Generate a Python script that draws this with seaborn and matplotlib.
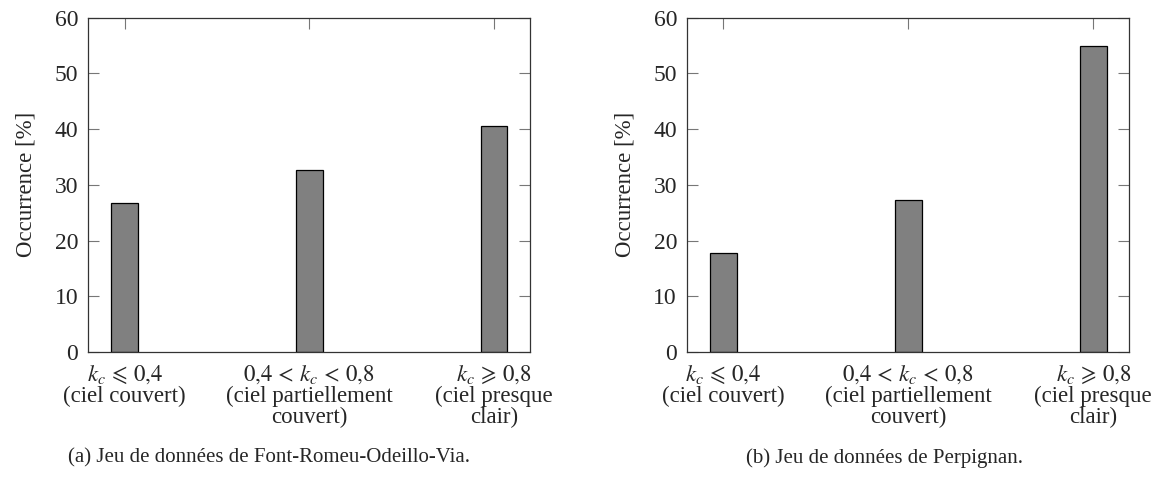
import matplotlib
matplotlib.use("Agg")
import matplotlib.pyplot as plt
import seaborn as sns
import pandas as pd

# categories (x tick labels) and occurrence values in %
categories = [
    "$k_c \\,\\leqslant\\, 0{,}4$\n(ciel couvert)",
    "$0{,}4 \\,<\\, k_c \\,<\\, 0{,}8$\n(ciel partiellement\ncouvert)",
    "$k_c \\,\\geqslant\\, 0{,}8$\n(ciel presque\nclair)",
]
font_romeu = [26.8, 32.7, 40.5]
perpignan = [17.7, 27.3, 55.0]
captions = [
    "(a) Jeu de données de Font-Romeu-Odeillo-Via.",
    "(b) Jeu de données de Perpignan.",
]
yticks = [0, 10, 20, 30, 40, 50, 60]

sns.set_style("white")
plt.rcParams["font.family"] = ["Liberation Serif", "DejaVu Serif"]
plt.rcParams["mathtext.fontset"] = "stix"

fig = plt.figure(figsize=(11.62, 4.83), dpi=100)
ax_a = fig.add_axes([0.0757, 0.2712, 0.3804, 0.6922])
ax_b = fig.add_axes([0.5910, 0.2712, 0.3809, 0.6922])

for ax, vals, cap, cx in [(ax_a, font_romeu, captions[0], 0.2315),
                          (ax_b, perpignan, captions[1], 0.761)]:
    df = pd.DataFrame({"cat": categories, "val": vals})
    sns.barplot(data=df, x="cat", y="val", ax=ax, color="#808080",
                saturation=1, width=0.145, edgecolor="black", linewidth=0.9)
    ax.set_xlim(-0.198, 2.195)
    ax.set_ylim(0, 60)
    ax.set_yticks(yticks)
    ax.set_yticklabels([str(t) for t in yticks], fontsize=17)
    ax.set_xticks(range(len(categories)))
    ax.set_xticklabels(categories, fontsize=16.5, linespacing=1.0,
                       ha="center", va="top")
    ax.set_xlabel("")
    ax.set_ylabel("Occurrence [%]", fontsize=16.5, labelpad=13)
    ax.tick_params(axis="both", direction="in", length=8, width=0.8,
                   color="#777777", top=True, right=True, bottom=True,
                   left=True)
    ax.tick_params(axis="x", pad=8)
    ax.tick_params(axis="y", pad=7)
    for sp in ax.spines.values():
        sp.set_visible(True)
        sp.set_color("#333333")
        sp.set_linewidth(0.9)
    fig.text(cx, 0.052, cap, ha="center", va="center", fontsize=15)

fig.savefig("out.png", dpi=100)
